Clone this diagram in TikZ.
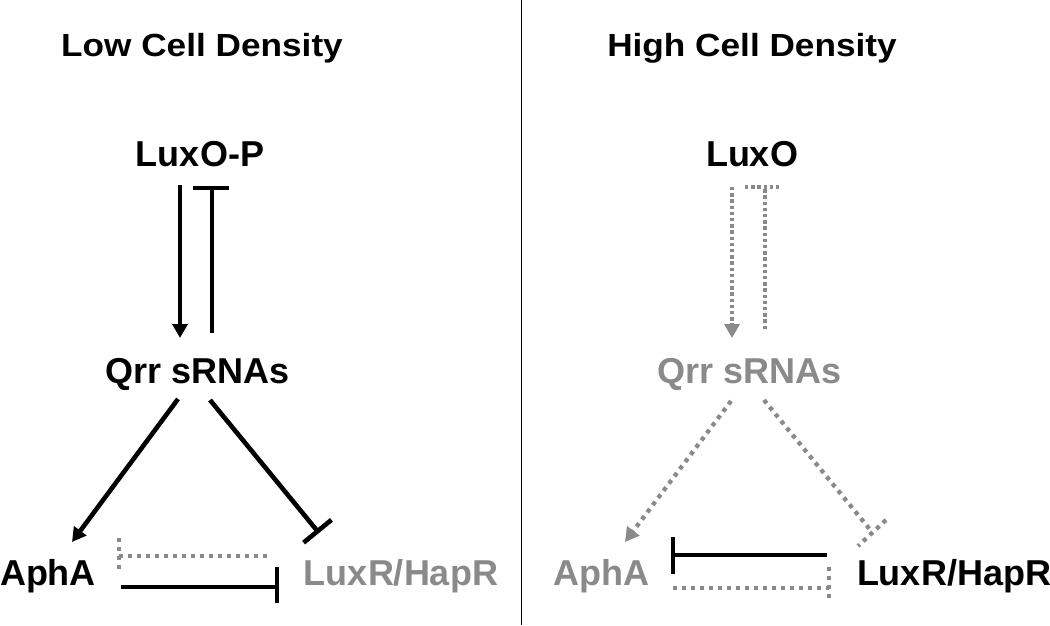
\documentclass[tikz,border=0pt]{standalone}
\usepackage{fontspec}
\setmainfont{Liberation Sans}
\usetikzlibrary{arrows.meta}
\definecolor{dimgray}{HTML}{8A8A8A}
\begin{document}
\begin{tikzpicture}[x=1pt,y=-1pt,
  lbl/.style={font=\bfseries\fontsize{36}{42}\selectfont, inner sep=0pt, anchor=base},
  ttl/.style={font=\bfseries\fontsize{32}{38}\selectfont, inner sep=0pt, anchor=base},
  act/.style={line width=4.6pt, -{Triangle[width=15pt,length=14pt]}},
  inh/.style={line width=4.6pt, -{Bar[width=36pt,line width=4.6pt]}},
  solid4/.style={line width=4.6pt},
  dact/.style={line width=3.8pt, dimgray, dash pattern=on 3.4pt off 2.8pt, -{Triangle[width=15pt,length=14pt]}},
  dfine/.style={line width=3.8pt, dimgray, dash pattern=on 3.4pt off 2.8pt},
  dcoarse/.style={line width=4.3pt, dimgray, dash pattern=on 4.2pt off 4.8pt},
  dcact/.style={line width=4.3pt, dimgray, dash pattern=on 4.2pt off 4.8pt, -{Triangle[width=15pt,length=14pt]}},
  faded/.style={text=dimgray}]
\useasboundingbox (0,0) rectangle (1050,625);
\fill[white] (0,0) rectangle (1050,625);
\draw[line width=1pt] (521,0) -- (521,625);

% Left panel
\node[ttl] (t1) at (202,56) {\scalebox{1.1}[1]{Low Cell Density}};
\node[lbl] (luxop) at (200,166) {LuxO-P};
\node[lbl] (qrr1) at (198,383) {Qrr sRNAs};
\node[lbl] (apha1) at (48,585) {AphA};
\node[lbl, faded] (luxr1) at (401,585) {LuxR/HapR};

\coordinate (a1s) at (180,185);
\coordinate (a1e) at (180,338);
\draw[act] (a1s) -- (a1e);
\coordinate (b1s) at (212,333);
\coordinate (b1e) at (212,188);
\draw[solid4] (b1s) -- (b1e);
\coordinate (b1l) at (193,188);
\coordinate (b1r) at (229,188);
\draw[solid4] (b1l) -- (b1r);

\coordinate (c1s) at (178,399);
\coordinate (c1e) at (72,542);
\draw[act] (c1s) -- (c1e);
\coordinate (d1s) at (210,400);
\coordinate (d1e) at (319,533);
\draw[inh] (d1s) -- (d1e);

\coordinate (e1a) at (119,538);
\coordinate (e1b) at (119,556);
\coordinate (e1c) at (271,556);
\draw[dcoarse] (e1a) -- (e1b) -- (e1c);
\draw[dcoarse] (e1b) -- (119,570);
\coordinate (f1s) at (121,587);
\coordinate (f1e) at (277,587);
\draw[solid4] (f1s) -- (f1e);
\coordinate (f1t) at (277,567);
\coordinate (f1b) at (277,603);
\draw[solid4] (f1t) -- (f1b);

% Right panel
\node[ttl] (t2) at (752,56) {\scalebox{1.1}[1]{High Cell Density}};
\node[lbl] (luxo) at (752,166) {LuxO};
\node[lbl, faded] (qrr2) at (750,383) {Qrr sRNAs};
\node[lbl, faded] (apha2) at (601,585) {AphA};
\node[lbl] (luxr2) at (954,585) {LuxR/HapR};

\coordinate (a2s) at (732,187);
\coordinate (a2e) at (732,338);
\draw[dact] (a2s) -- (a2e);
\coordinate (b2s) at (765,329);
\coordinate (b2e) at (765,188);
\coordinate (b2l) at (745,187);
\coordinate (b2r) at (781,187);
\draw[dfine] (b2s) -- (b2e);
\draw[dfine] (b2l) -- (b2r);

\coordinate (c2s) at (731,401);
\coordinate (c2e) at (625,542);
\draw[dcact] (c2s) -- (c2e);
\coordinate (d2s) at (764,400);
\coordinate (d2e) at (872,532);
\draw[dcoarse] (d2s) -- (d2e);
\coordinate (d2t) at (886,520);
\coordinate (d2b) at (858,546);
\draw[dcoarse] (d2t) -- (d2b);

\coordinate (f2s) at (827,555);
\coordinate (f2e) at (673,555);
\draw[solid4] (f2s) -- (f2e);
\coordinate (f2t) at (673,537);
\coordinate (f2b) at (673,574);
\draw[solid4] (f2t) -- (f2b);
\coordinate (e2a) at (673,588);
\coordinate (e2b) at (829,588);
\coordinate (e2c) at (829,567);
\draw[dcoarse] (e2a) -- (e2b);
\draw[dcoarse] (e2c) -- (829,598);
\end{tikzpicture}
\end{document}
